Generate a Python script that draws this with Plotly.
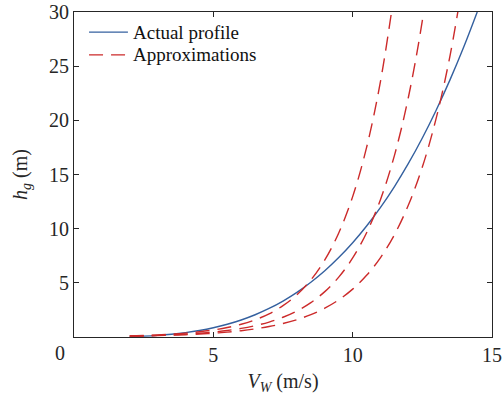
import plotly.graph_objects as go

# Wind speed grid (m/s)
v_actual = [2.0, 2.5, 3.0, 3.5, 4.0, 4.5, 5.0, 5.5, 6.0, 6.5, 7.0, 7.5, 8.0, 8.5,
            9.0, 9.5, 10.0, 10.5, 11.0, 11.5, 12.0, 12.5, 13.0, 13.5, 14.0, 14.47]
h_actual = [0.04, 0.084, 0.154, 0.259, 0.404, 0.600, 0.853, 1.174, 1.571, 2.055,
            2.634, 3.32, 4.12, 5.05, 6.11, 7.33, 8.70, 10.25, 11.97, 13.89, 16.02,
            18.37, 20.96, 23.78, 26.86, 30.0]

v_approx1 = [2.0, 2.5, 3.0, 3.5, 4.0, 4.5, 5.0, 5.5, 6.0, 6.5, 7.0, 7.5, 8.0, 8.5,
             9.0, 9.5, 10.0, 10.5, 11.0, 11.5]
h_approx1 = [0.107, 0.144, 0.194, 0.262, 0.354, 0.478, 0.645, 0.871, 1.176, 1.587,
             2.143, 2.892, 3.904, 5.270, 7.113, 9.602, 12.96, 17.50, 23.62, 31.88]

v_approx2 = [2.0, 2.5, 3.0, 3.5, 4.0, 4.5, 5.0, 5.5, 6.0, 6.5, 7.0, 7.5, 8.0, 8.5,
             9.0, 9.5, 10.0, 10.5, 11.0, 11.5, 12.0, 12.5, 13.0]
h_approx2 = [0.086, 0.114, 0.150, 0.198, 0.261, 0.345, 0.455, 0.600, 0.792, 1.045,
             1.380, 1.821, 2.403, 3.172, 4.187, 5.526, 7.293, 9.625, 12.70, 16.77,
             22.13, 29.21, 38.55]

v_approx3 = [2.0, 2.5, 3.0, 3.5, 4.0, 4.5, 5.0, 5.5, 6.0, 6.5, 7.0, 7.5, 8.0, 8.5,
             9.0, 9.5, 10.0, 10.5, 11.0, 11.5, 12.0, 12.5, 13.0, 13.5, 14.0]
h_approx3 = [0.077, 0.099, 0.127, 0.164, 0.211, 0.272, 0.350, 0.451, 0.581, 0.749,
             0.965, 1.244, 1.602, 2.065, 2.661, 3.428, 4.417, 5.692, 7.333, 9.450,
             12.18, 15.69, 20.22, 26.05, 33.57]

x_ticks = [5, 10, 15]
y_ticks = [5, 10, 15, 20, 25, 30]
legend_labels = ["Actual profile", "Approximations"]

BLUE = "#34609F"
RED = "#CC2A2A"
AXC = "#262626"
FONT = "Liberation Serif, Times New Roman, serif"
DASH = "14px,8px"

fig = go.Figure()
fig.add_trace(go.Scatter(x=v_actual, y=h_actual, mode="lines", name=legend_labels[0],
                         showlegend=False,
                         line=dict(color=BLUE, width=1.4, shape="spline")))
approx = [(v_approx1, h_approx1), (v_approx2, h_approx2), (v_approx3, h_approx3)]
for vx, hy in approx:
    fig.add_trace(go.Scatter(x=vx, y=hy, mode="lines", name=legend_labels[1],
                             showlegend=False,
                             line=dict(color=RED, width=1.4, dash=DASH, shape="spline")))

axis_common = dict(showline=True, linecolor=AXC, linewidth=1, mirror="allticks",
                   ticks="inside", ticklen=5, tickcolor=AXC, showgrid=False, zeroline=False,
                   automargin=False,
                   tickfont=dict(family=FONT, size=20, color=AXC))

fig.update_xaxes(range=[0, 15], tickvals=x_ticks, ticktext=[str(t) for t in x_ticks],
                 title=dict(text="<i>V</i><sub><i>W</i></sub> (m/s)", standoff=8,
                            font=dict(family=FONT, size=20, color=AXC)),
                 **axis_common)
fig.update_yaxes(range=[0, 30], tickvals=y_ticks, ticktext=[str(t) for t in y_ticks],
                 title=dict(text="<i>h</i><sub><i>g</i></sub> (m)", standoff=16,
                            font=dict(family=FONT, size=20, color=AXC)),
                 **axis_common)

fig.add_annotation(text="0", x=0, y=0, xref="x", yref="y", showarrow=False,
                   xshift=-14, yshift=-16, font=dict(family=FONT, size=20, color=AXC))

# Manual legend (no box), matching the reference placement
leg_x0, leg_x1, leg_tx = 0.036, 0.129, 0.136
leg_rows = [0.938, 0.868]
fig.add_shape(type="line", xref="paper", yref="paper", x0=leg_x0, x1=leg_x1,
              y0=leg_rows[0], y1=leg_rows[0], line=dict(color=BLUE, width=1.4))
fig.add_shape(type="line", xref="paper", yref="paper", x0=leg_x0, x1=leg_x1,
              y0=leg_rows[1], y1=leg_rows[1], line=dict(color=RED, width=1.4, dash=DASH))
for lab, yy in zip(legend_labels, leg_rows):
    fig.add_annotation(text=lab, xref="paper", yref="paper", x=leg_tx, y=yy,
                       xanchor="left", yanchor="middle", showarrow=False,
                       font=dict(family=FONT, size=19, color="#111111"))

fig.update_layout(
    width=503, height=397,
    margin=dict(l=74, r=11, t=12, b=60),
    paper_bgcolor="white", plot_bgcolor="white",
    font=dict(family=FONT, size=20, color=AXC),
    showlegend=False,
)

fig.write_html("out.html")
